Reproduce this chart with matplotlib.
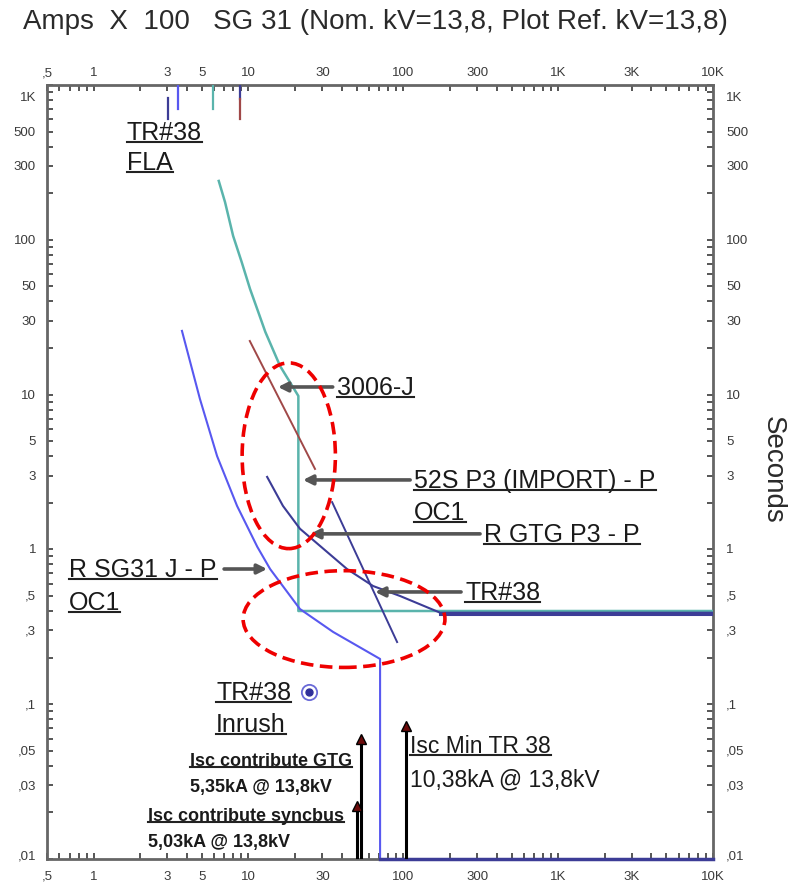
import matplotlib
matplotlib.use('Agg')
import matplotlib.pyplot as plt
from matplotlib.ticker import FixedLocator, NullLocator
from matplotlib.patches import Ellipse
from matplotlib.lines import Line2D

# colours of the devices
teal = '#5ab4ac'
blue = '#5858f0'
navy = '#3c3c96'
brown = '#a04848'
text_col = '#1a1a1a'

# time-current curves: amps x 100 / seconds
teal_amps = [6.43, 7.06, 7.96, 9.05, 10.24, 11.59, 12.85, 16.0, 21.0, 21.0, 10000]
teal_secs = [240, 175, 106, 71.6, 48.1, 34.0, 25.4, 15.3, 9.8, 0.40, 0.40]

blue_amps = [3.72, 4.86, 6.27, 8.44, 11.4, 13.8, 21.5, 35.2, 70.8, 70.8]
blue_secs = [25.8, 9.37, 4.01, 1.91, 1.04, 0.747, 0.412, 0.293, 0.196, 0.01]

navy_amps = [13.2, 16.7, 21.5, 43.3, 63.8, 95.3, 173, 10000]
navy_secs = [2.94, 1.91, 1.36, 0.747, 0.58, 0.50, 0.39, 0.39]

inst_amps = [70.8, 10000]
inst_secs = [0.01, 0.01]

brown_amps = [10.2, 26.9]
brown_secs = [22.2, 3.31]

tr_amps = [34.7, 91.2]
tr_secs = [2.02, 0.252]

# FLA marks at the top
fla_amps = [3.03, 3.51, 5.9, 8.83, 8.83]
fla_lo = [603, 700, 700, 813, 603]
fla_hi = [824, 1000, 1000, 1000, 813]
fla_cols = [navy, blue, teal, navy, brown]

# inrush point
inrush_amps = 24.6
inrush_secs = 0.12

# short-circuit arrows
isc_amps = [50.3, 53.5, 103.8]
isc_tops = [0.022, 0.06, 0.072]

# tick labels
x_ticks = [0.5, 1, 3, 5, 10, 30, 100, 300, 1000, 3000, 10000]
x_labels = [',5', '1', '3', '5', '10', '30', '100', '300', '1K', '3K', '10K']
y_ticks = [0.01, 0.03, 0.05, 0.1, 0.3, 0.5, 1, 3, 5, 10, 30, 50, 100, 300, 500, 1000]
y_labels = [',01', ',03', ',05', ',1', ',3', ',5', '1', '3', '5', '10', '30', '50', '100', '300', '500', '1K']

plt.rcParams['font.family'] = ['Liberation Sans', 'DejaVu Sans']

fig = plt.figure(figsize=(7.89, 8.87), dpi=100)
ax = fig.add_axes([47 / 789, 27 / 887, 666 / 789, 774 / 887])
ax.set_xscale('log')
ax.set_yscale('log')
ax.set_xlim(0.5, 10000)
ax.set_ylim(0.01, 1000)

# ticks on every 1..9 x 10^n, all the same, pointing in
all_x = [m * 10 ** e for e in range(-1, 5) for m in range(1, 10) if 0.5 <= m * 10 ** e <= 10000]
all_y = [m * 10 ** e for e in range(-2, 4) for m in range(1, 10) if 0.01 <= m * 10 ** e <= 1000]
ax.xaxis.set_major_locator(FixedLocator(all_x))
ax.yaxis.set_major_locator(FixedLocator(all_y))
ax.xaxis.set_minor_locator(NullLocator())
ax.yaxis.set_minor_locator(NullLocator())
ax.tick_params(direction='in', length=4, width=1.4, colors='#555555',
               top=True, right=True, labelbottom=False, labelleft=False)
for s in ax.spines.values():
    s.set_color('#666666')
    s.set_linewidth(2.0)

for x, lab in zip(x_ticks, x_labels):
    ax.annotate(lab, (x, 1), xycoords=('data', 'axes fraction'), xytext=(0, 13),
                textcoords='offset pixels', ha='center', va='center', fontsize=9.5, color='#3a3a3a')
    ax.annotate(lab, (x, 0), xycoords=('data', 'axes fraction'), xytext=(0, -17),
                textcoords='offset pixels', ha='center', va='center', fontsize=9.5, color='#3a3a3a')
for y, lab in zip(y_ticks, y_labels):
    dy = 0
    if y == 1000:
        dy = -12
    elif y == 0.01:
        dy = 3
    ax.annotate(lab, (0, y), xycoords=('axes fraction', 'data'), xytext=(-11, dy),
                textcoords='offset pixels', ha='right', va='center', fontsize=9.5, color='#3a3a3a')
    ax.annotate(lab, (1, y), xycoords=('axes fraction', 'data'), xytext=(13, dy),
                textcoords='offset pixels', ha='left', va='center', fontsize=9.5, color='#3a3a3a')

# curves
ax.plot(teal_amps, teal_secs, color=teal, lw=1.8, zorder=3)
ax.plot(blue_amps, blue_secs, color=blue, lw=1.5, zorder=3)
ax.plot(navy_amps, navy_secs, color=navy, lw=1.5, zorder=3)
ax.plot(navy_amps[-2:], [s * 0.985 for s in navy_secs[-2:]], color=navy, lw=2.2, zorder=3)
ax.plot(inst_amps, inst_secs, color=navy, lw=2.5, zorder=4, clip_on=False)
ax.plot(brown_amps, brown_secs, color=brown, lw=1.4, zorder=3)
ax.plot(tr_amps, tr_secs, color=navy, lw=1.4, zorder=3)
for a, lo, hi, c in zip(fla_amps, fla_lo, fla_hi, fla_cols):
    ax.plot([a, a], [lo, hi], color=c, lw=1.6, zorder=3)

ax.plot(inrush_amps, inrush_secs, 'o', ms=11, mfc='white', mec='#6a6ad8', mew=1.3, zorder=5)
ax.plot(inrush_amps, inrush_secs, 'o', ms=5, color='#30309a', zorder=6)

for a, t in zip(isc_amps, isc_tops):
    ax.plot([a, a], [0.0101, t], color='black', lw=2.2, zorder=5)
    ax.plot(a, t, marker='^', ms=7, mfc='#6b0a0a', mec='black', mew=1, zorder=6)

# labels with pointer arrows
under = []
big = 18

def pointer(tail, tip):
    ax.annotate('', xy=tip, xytext=tail,
                arrowprops=dict(arrowstyle='-|>', color='#555555', lw=2.6, mutation_scale=14,
                                shrinkA=0, shrinkB=0), zorder=6)

under.append(ax.text(37.4, 11.2, '3006-J', fontsize=big, color=text_col, va='center'))
pointer((35, 11.2), (15.5, 11.2))

under.append(ax.text(117.5, 2.81, '52S P3 (IMPORT) - P', fontsize=big, color=text_col, va='center'))
under.append(ax.text(117.5, 1.74, 'OC1', fontsize=big, color=text_col, va='center'))
pointer((110.7, 2.81), (22.5, 2.81))

under.append(ax.text(332, 1.26, 'R GTG P3 - P', fontsize=big, color=text_col, va='center'))
pointer((313, 1.26), (25.0, 1.26))

under.append(ax.text(250.8, 0.531, 'TR#38', fontsize=big, color=text_col, va='center'))
pointer((236, 0.531), (65.7, 0.531))

under.append(ax.text(0.694, 0.747, 'R SG31 J - P', fontsize=big, color=text_col, va='center'))
under.append(ax.text(0.694, 0.457, 'OC1', fontsize=big, color=text_col, va='center'))
pointer((6.96, 0.747), (13.2, 0.747))

under.append(ax.text(1.64, 497, 'TR#38', fontsize=big, color=text_col, va='center'))
under.append(ax.text(1.64, 318, 'FLA', fontsize=big, color=text_col, va='center'))

under.append(ax.text(6.18, 0.12, 'TR#38', fontsize=big, color=text_col, va='center'))
under.append(ax.text(6.18, 0.0745, 'Inrush', fontsize=big, color=text_col, va='center'))

under.append(ax.text(4.2, 0.0436, 'Isc contribute GTG', fontsize=13, fontweight='bold',
                     color=text_col, va='center'))
ax.text(4.2, 0.0292, '5,35kA @ 13,8kV', fontsize=13, fontweight='bold', color=text_col, va='center')
under.append(ax.text(2.25, 0.019, 'Isc contribute syncbus', fontsize=13, fontweight='bold',
                     color=text_col, va='center'))
ax.text(2.25, 0.0129, '5,03kA @ 13,8kV', fontsize=13, fontweight='bold', color=text_col, va='center')

under.append(ax.text(110.7, 0.0537, 'Isc Min TR 38', fontsize=16.5, color=text_col, va='center'))
ax.text(110.7, 0.0329, '10,38kA @ 13,8kV', fontsize=16.5, color=text_col, va='center')

# red dashed rings
ax.add_patch(Ellipse((0.363, 0.521), 0.140, 0.240, transform=ax.transAxes, fill=False,
                     ec='#ee0000', lw=2.6, ls=(0, (3.5, 1.8)), zorder=7))
ax.add_patch(Ellipse((0.446, 0.310), 0.303, 0.125, transform=ax.transAxes, fill=False,
                     ec='#ee0000', lw=2.6, ls=(0, (3.5, 1.8)), zorder=7))

fig.text(23 / 789, 1 - 22 / 887, 'Amps  X  100   SG 31 (Nom. kV=13,8, Plot Ref. kV=13,8)',
         fontsize=20, color='#2a2a2a', va='center', ha='left')
fig.text(773 / 789, 1 - 470 / 887, 'Seconds', fontsize=20, color='#2a2a2a',
         rotation=270, va='center', ha='center')

# underline the labels
fig.canvas.draw()
r = fig.canvas.get_renderer()
W, H = fig.bbox.width, fig.bbox.height
for t in under:
    bb = t.get_window_extent(r)
    y = bb.y0 + 2
    fig.add_artist(Line2D([bb.x0 / W, bb.x1 / W], [y / H, y / H], color='#222222', lw=1.5))

fig.savefig('out.png', dpi=100)
